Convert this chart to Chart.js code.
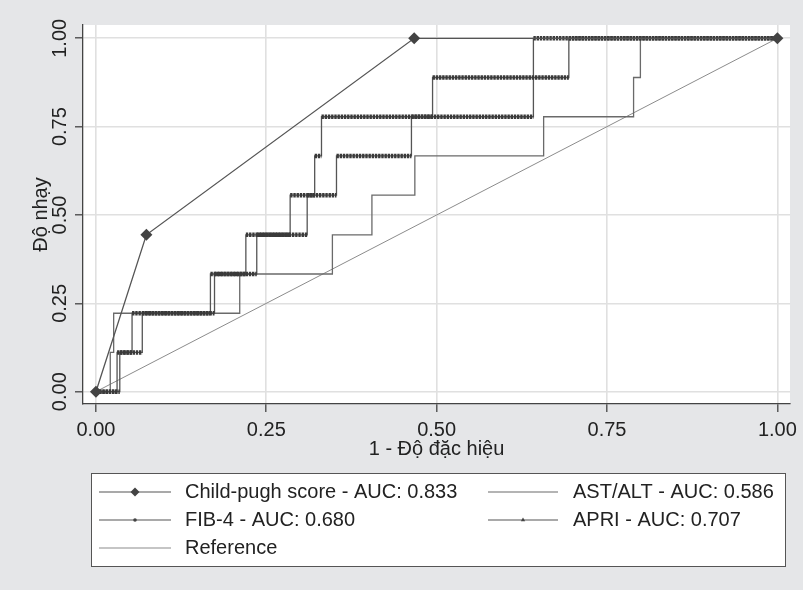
<!DOCTYPE html>
<html>
<head>
<meta charset="utf-8">
<script src="https://cdn.jsdelivr.net/npm/chart.js@4.4.1/dist/chart.umd.min.js"></script>
<style>
  html, body { margin: 0; padding: 0; background: #e5e6e8; }
  #wrap { width: 803px; height: 590px; position: relative; }
</style>
</head>
<body>
<div id="wrap"><canvas id="roc"></canvas></div>
<script>
// ================= Data =================
const tickValues = [0, 0.25, 0.5, 0.75, 1];

// Child-pugh score (diamond markers)
const childFpr = [0, 0.074, 0.467, 1];
const childSens = [0, 0.444, 1, 1];

// AST/ALT (plain step line) - points where the curve rises
const astFpr = [0, 0.021, 0.026, 0.211, 0.347, 0.405, 0.468, 0.657, 0.789, 0.799, 1];
const astSens = [0, 0.111, 0.222, 0.333, 0.444, 0.556, 0.667, 0.778, 0.889, 1, 1];

// FIB-4 (dot markers)
const fibFpr = [0, 0.035, 0.068, 0.174, 0.220, 0.285, 0.353, 0.463, 0.642, 1];
const fibSens = [0, 0.111, 0.222, 0.333, 0.444, 0.556, 0.667, 0.778, 1, 1];

// APRI (triangle markers)
const apriFpr = [0, 0.031, 0.053, 0.168, 0.236, 0.310, 0.321, 0.331, 0.494, 0.694, 1];
const apriSens = [0, 0.111, 0.222, 0.333, 0.444, 0.556, 0.667, 0.778, 0.889, 1, 1];

// Reference diagonal
const refFpr = [0, 1];
const refSens = [0, 1];

const seriesLabels = [
    "Child-pugh score - AUC: 0.833",
    "AST/ALT - AUC: 0.586",
    "FIB-4 - AUC: 0.680",
    "APRI - AUC: 0.707",
    "Reference"
];

// ================= Helpers =================
function toPoints(xs, ys) {
    return xs.map((x, i) => ({ x: x, y: ys[i] }));
}

// horizontal runs of a step curve, split by gaps (where the markers sit)
function flatRuns(xs, ys) {
    const pts = [];
    for (let i = 0; i < xs.length - 1; i++) {
        pts.push({ x: xs[i], y: ys[i] }, { x: xs[i + 1], y: ys[i] }, { x: xs[i + 1], y: null });
    }
    return pts;
}

const FONT = "'Liberation Sans', Arial, sans-serif";
const TEXT = "#222";
const DARK = "#434343";

// ================= Plugins =================
const plotBackground = {
    id: "plotBackground",
    beforeDraw(chart) {
        const { ctx, chartArea: a } = chart;
        ctx.save();
        ctx.fillStyle = "#e5e6e8";
        ctx.fillRect(0, 0, chart.width, chart.height);
        ctx.fillStyle = "#ffffff";
        ctx.fillRect(a.left, a.top, a.right - a.left, a.bottom - a.top);
        ctx.restore();
    }
};

const rocLegend = {
    id: "rocLegend",
    afterDraw(chart) {
        const ctx = chart.ctx;
        const box = { x: 91, y: 473, w: 694, h: 93 };
        ctx.save();
        ctx.fillStyle = "#ffffff";
        ctx.fillRect(box.x, box.y, box.w, box.h);
        ctx.strokeStyle = "#555";
        ctx.lineWidth = 1;
        ctx.strokeRect(box.x + 0.5, box.y + 0.5, box.w, box.h);

        const cols = [{ x: 99, len: 72, tx: 185 }, { x: 488, len: 70, tx: 573 }];
        const rows = [492, 520, 548];
        const items = [
            { label: seriesLabels[0], c: 0, r: 0, marker: "diamond", color: "#555" },
            { label: seriesLabels[1], c: 1, r: 0, marker: null, color: "#6a6a6a" },
            { label: seriesLabels[2], c: 0, r: 1, marker: "dot", color: "#555" },
            { label: seriesLabels[3], c: 1, r: 1, marker: "triangle", color: "#555" },
            { label: seriesLabels[4], c: 0, r: 2, marker: null, color: "#8c8c8c" }
        ];

        ctx.font = "20px " + FONT;
        ctx.textBaseline = "middle";
        items.forEach(it => {
            const col = cols[it.c];
            const y = rows[it.r];
            ctx.strokeStyle = it.color;
            ctx.lineWidth = 1.2;
            ctx.beginPath();
            ctx.moveTo(col.x, y);
            ctx.lineTo(col.x + col.len, y);
            ctx.stroke();

            const mx = col.x + col.len / 2;
            ctx.fillStyle = DARK;
            if (it.marker === "diamond") {
                ctx.beginPath();
                ctx.moveTo(mx, y - 4.5);
                ctx.lineTo(mx + 4.5, y);
                ctx.lineTo(mx, y + 4.5);
                ctx.lineTo(mx - 4.5, y);
                ctx.closePath();
                ctx.fill();
            } else if (it.marker === "dot") {
                ctx.beginPath();
                ctx.arc(mx, y, 1.8, 0, Math.PI * 2);
                ctx.fill();
            } else if (it.marker === "triangle") {
                ctx.beginPath();
                ctx.moveTo(mx, y - 2.5);
                ctx.lineTo(mx + 2.2, y + 1.3);
                ctx.lineTo(mx - 2.2, y + 1.3);
                ctx.closePath();
                ctx.fill();
            }
            ctx.fillStyle = TEXT;
            ctx.fillText(it.label, col.tx, y);
        });
        ctx.restore();
    }
};

// ================= Chart =================
const markerBand = {
    borderColor: "#3a3a3a",
    borderWidth: 4.5,
    borderDash: [2.4, 0.8],
    borderCapStyle: "butt",
    pointRadius: 0,
    spanGaps: false
};

const ctx = document.getElementById("roc").getContext("2d");

const rocChart = new Chart(ctx, {
    type: "line",
    data: {
        datasets: [
            {
                label: seriesLabels[0],
                data: toPoints(childFpr, childSens),
                borderColor: "#555",
                borderWidth: 1.3,
                pointStyle: "rectRot",
                pointRadius: 6,
                pointBackgroundColor: DARK,
                pointBorderColor: DARK,
                pointBorderWidth: 0
            },
            Object.assign({ label: "APRI markers", data: flatRuns(apriFpr, apriSens) }, markerBand),
            Object.assign({ label: "FIB-4 markers", data: flatRuns(fibFpr, fibSens) }, markerBand),
            {
                label: seriesLabels[3],
                data: toPoints(apriFpr, apriSens),
                stepped: "before",
                borderColor: "#555",
                borderWidth: 1.3,
                pointRadius: 0
            },
            {
                label: seriesLabels[2],
                data: toPoints(fibFpr, fibSens),
                stepped: "before",
                borderColor: "#555",
                borderWidth: 1.3,
                pointRadius: 0
            },
            {
                label: seriesLabels[1],
                data: toPoints(astFpr, astSens),
                stepped: "before",
                borderColor: "#6a6a6a",
                borderWidth: 1.3,
                pointRadius: 0
            },
            {
                label: seriesLabels[4],
                data: toPoints(refFpr, refSens),
                borderColor: "#8c8c8c",
                borderWidth: 1,
                pointRadius: 0
            }
        ]
    },
    options: {
        responsive: true,
        maintainAspectRatio: false,
        animation: false,
        layout: {
            padding: { left: 0, top: 25, right: 10, bottom: 129 }
        },
        plugins: {
            legend: { display: false },
            tooltip: { enabled: false }
        },
        scales: {
            x: {
                type: "linear",
                min: -0.019,
                max: 1.0186,
                afterBuildTicks: scale => {
                    scale.ticks = tickValues.map(v => ({ value: v }));
                },
                afterFit: scale => { scale.height = 57; },
                ticks: {
                    callback: v => v.toFixed(2),
                    color: TEXT,
                    font: { family: FONT, size: 20 },
                    padding: 6,
                    maxRotation: 0
                },
                grid: {
                    color: "#e0e0e0",
                    lineWidth: 1.6,
                    tickColor: "#444",
                    tickLength: 8,
                    tickWidth: 1.3
                },
                border: { color: "#444", width: 1.3 },
                title: {
                    display: true,
                    text: "1 - Độ đặc hiệu",
                    color: TEXT,
                    font: { family: FONT, size: 20 },
                    padding: { top: 0, bottom: 0 }
                }
            },
            y: {
                type: "linear",
                min: -0.0348,
                max: 1.0376,
                afterBuildTicks: scale => {
                    scale.ticks = tickValues.map(v => ({ value: v }));
                },
                afterFit: scale => { scale.width = 83; },
                ticks: {
                    callback: v => v.toFixed(2),
                    color: TEXT,
                    font: { family: FONT, size: 20 },
                    minRotation: 90,
                    maxRotation: 90,
                    crossAlign: "center",
                    padding: -5
                },
                grid: {
                    color: "#e0e0e0",
                    lineWidth: 1.6,
                    tickColor: "#444",
                    tickLength: 8,
                    tickWidth: 1.3
                },
                border: { color: "#444", width: 1.3 },
                title: {
                    display: true,
                    text: "Độ nhạy",
                    color: TEXT,
                    font: { family: FONT, size: 20 },
                    padding: { top: 29, bottom: 0 }
                }
            }
        }
    },
    plugins: [plotBackground, rocLegend]
});
</script>
</body>
</html>
